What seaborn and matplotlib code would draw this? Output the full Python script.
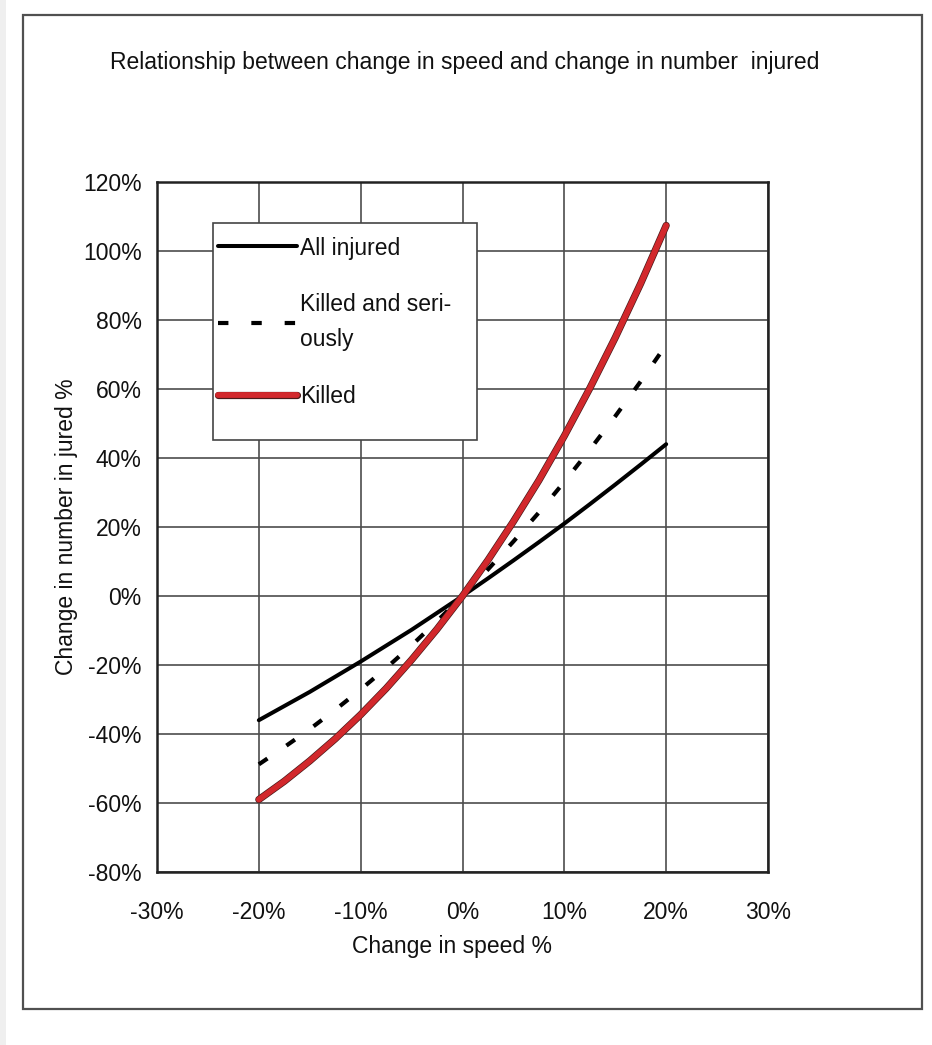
import matplotlib
matplotlib.use('Agg')
import matplotlib.pyplot as plt
import matplotlib.patheffects as pe
from matplotlib.patches import Rectangle
from matplotlib.ticker import FuncFormatter, MultipleLocator
import seaborn as sns
import pandas as pd

# change in speed (%) and change in number injured (%)
speed = [-20, -17.5, -15, -12.5, -10, -7.5, -5, -2.5, 0, 2.5, 5, 7.5, 10, 12.5, 15, 17.5, 20]
all_injured = [-36.0, -31.9, -27.8, -23.4, -19.0, -14.4, -9.8, -4.9, 0, 5.1, 10.3, 15.6, 21.0, 26.6, 32.3, 38.1, 44.0]
killed_serious = [-48.8, -43.8, -38.6, -33.0, -27.1, -20.9, -14.3, -7.3, 0, 7.7, 15.8, 24.2, 33.1, 42.4, 52.1, 62.2, 72.8]
killed = [-59.0, -53.7, -47.8, -41.4, -34.4, -26.8, -18.5, -9.6, 0, 10.4, 21.6, 33.5, 46.4, 60.2, 74.9, 90.6, 107.4]

labels = ['All injured', 'Killed and seri-\nously', 'Killed']
title = 'Relationship between change in speed and change in number  injured'

df = pd.DataFrame({'speed': speed, 'all': all_injured, 'ks': killed_serious, 'k': killed})

sns.set_style('white')
plt.rcParams['font.family'] = ['Liberation Sans', 'DejaVu Sans']
FS = 16.5
TXT = '#111111'

fig = plt.figure(figsize=(9.32, 10.45), dpi=100)
W, H = 932, 1045
# axes box in pixels: left 157, right 768, top 182, bottom 872
ax = fig.add_axes([157 / W, 1 - 872 / H, (768 - 157) / W, (872 - 182) / H])

# outer frame of the picture
fig.patches.append(Rectangle((0, 0), 6 / W, 1, transform=fig.transFigure,
                             facecolor='#efefef', edgecolor='none'))
fig.patches.append(Rectangle((23 / W, 1 - 1009 / H), (922 - 23) / W, (1009 - 15) / H,
                             transform=fig.transFigure, fill=False,
                             edgecolor='#505050', linewidth=1.6))

sns.lineplot(data=df, x='speed', y='all', ax=ax, color='black', linewidth=2.9,
             label=labels[0], zorder=3)
sns.lineplot(data=df, x='speed', y='ks', ax=ax, color='black', linewidth=3.0,
             linestyle=(0, (2.5, 5.5)), label=labels[1], zorder=3)
sns.lineplot(data=df, x='speed', y='k', ax=ax, color='#d2282c', linewidth=4.2,
             label=labels[2], zorder=3,
             path_effects=[pe.Stroke(linewidth=5.2, foreground='#4a1a1a'), pe.Normal()])

ax.set_xlim(-30, 30)
ax.set_ylim(-80, 120)
ax.xaxis.set_major_locator(MultipleLocator(10))
ax.yaxis.set_major_locator(MultipleLocator(20))
pct = FuncFormatter(lambda v, p: f'{v:.0f}%')
ax.xaxis.set_major_formatter(pct)
ax.yaxis.set_major_formatter(pct)
ax.tick_params(length=0, labelsize=FS, colors=TXT)
ax.tick_params(axis='x', pad=21)
ax.tick_params(axis='y', pad=11)
ax.grid(True, color='#4d4d4d', linewidth=1.2)
ax.set_axisbelow(True)
for s in ax.spines.values():
    s.set_visible(True)
    s.set_color('#222222')
    s.set_linewidth(1.8)

ax.set_xlabel('Change in speed %', fontsize=FS, color=TXT)
ax.set_ylabel('Change in number in jured %', fontsize=FS, color=TXT)
ax.xaxis.set_label_coords(0.482, -0.092)
ax.yaxis.set_label_coords(-0.130, 0.5)

# legend box (white, hides the grid)
ax.add_patch(Rectangle((0.0915, 0.626), 0.4315, 0.3146, transform=ax.transAxes,
                       facecolor='white', edgecolor='#444444', linewidth=1.2, zorder=4))
leg = ax.legend(loc='upper left', bbox_to_anchor=(0.0997, 0.921), frameon=False,
                fontsize=FS, handlelength=3.45, handletextpad=0.15, labelspacing=1.45,
                borderpad=0, borderaxespad=0, labelcolor=TXT)
for t in leg.get_texts():
    t.set_linespacing(1.7)
leg.set_zorder(5)

fig.text(465 / W, 1 - 62 / H, title, ha='center', va='center', fontsize=FS, color=TXT)

fig.savefig('out.png', dpi=100, facecolor='white')
